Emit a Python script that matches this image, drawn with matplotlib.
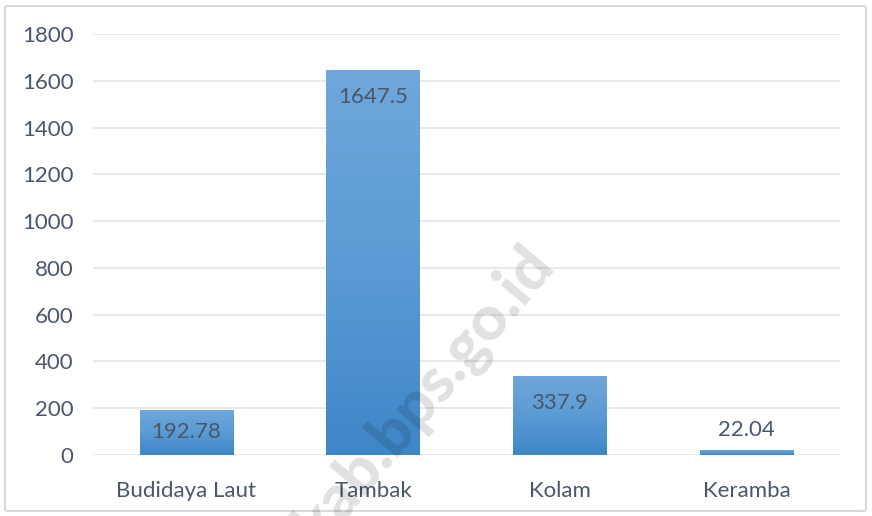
import numpy as np
import matplotlib.pyplot as plt
from matplotlib.colors import LinearSegmentedColormap
from matplotlib.patches import FancyBboxPatch

# data
categories = ["Budidaya Laut", "Tambak", "Kolam", "Keramba"]
values = [192.78, 1647.5, 337.9, 22.04]
value_labels = ["192.78", "1647.5", "337.9", "22.04"]
y_ticks = [0, 200, 400, 600, 800, 1000, 1200, 1400, 1600, 1800]

text_color = "#4A566A"
plt.rcParams["font.family"] = ["Lato", "DejaVu Sans"]

fig = plt.figure(figsize=(8.72, 5.16), dpi=100)
fig.patch.set_facecolor("white")

# light border around the chart
border = FancyBboxPatch((5 / 872, 5 / 516), 861 / 872, 505 / 516,
                        boxstyle="round,pad=0,rounding_size=0.004",
                        transform=fig.transFigure, fill=False,
                        edgecolor="#D9D9D9", linewidth=1.5)
fig.patches.append(border)

ax = fig.add_axes([93 / 872, 61 / 516, 747 / 872, 421 / 516])
x = np.arange(len(categories))

bars = ax.bar(x, values, width=0.5, color="#5B9BD5", zorder=2)

# gradient fill per bar, lighter on top
cmap = LinearSegmentedColormap.from_list("bar_grad", ["#3F86C8", "#5B9BD5", "#70A7DC"])
grad = np.linspace(0, 1, 256).reshape(-1, 1)
for b in bars:
    x0, w, h = b.get_x(), b.get_width(), b.get_height()
    im = ax.imshow(grad, cmap=cmap, aspect="auto", origin="lower",
                   extent=[x0, x0 + w, 0, h], zorder=2.1)
    im.set_clip_path(b)

ax.set_xlim(-0.5, len(categories) - 0.5)
ax.set_ylim(0, 1800)
ax.set_yticks(y_ticks)
ax.set_xticks(x)
ax.set_xticklabels(categories)

ax.grid(axis="y", color="#E3E6EA", linewidth=1.2, zorder=0)
for s in ax.spines.values():
    s.set_visible(False)
ax.tick_params(axis="both", length=0, labelsize=16, labelcolor=text_color)
ax.tick_params(axis="y", pad=14)
ax.tick_params(axis="x", pad=19)

# data labels: inside top of bar, or above when the bar is too small
px_per_unit = 421 / 1800
for xi, v, lab in zip(x, values, value_labels):
    if v * px_per_unit < 30:
        ax.text(xi, v + 20 / px_per_unit, lab, ha="center", va="center",
                fontsize=16, color=text_color, zorder=4)
    else:
        y = max(v - 27 / px_per_unit, v / 2)
        ax.text(xi, y, lab, ha="center", va="center",
                fontsize=16, color=text_color, zorder=4)

# watermark
fig.text(0.487, 0.236, "kab.bps.go.id", rotation=50, fontsize=45,
         fontweight="black", color="black", alpha=0.12,
         ha="center", va="center", zorder=10)

fig.savefig("out.png", dpi=100)
